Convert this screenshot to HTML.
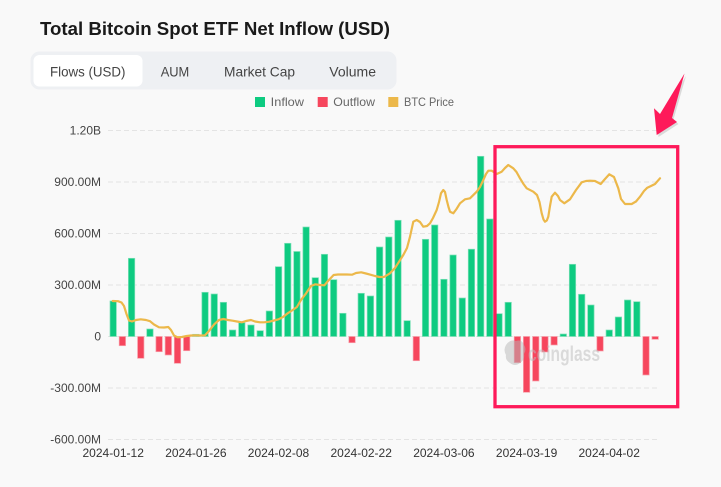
<!DOCTYPE html>
<html><head><meta charset="utf-8"><style>
html,body{margin:0;padding:0;background:#f9f9f9;}
svg{display:block;font-family:"Liberation Sans",sans-serif;}
</style></head><body>
<svg width="721" height="487" viewBox="0 0 721 487" xmlns="http://www.w3.org/2000/svg">
<rect width="721" height="487" fill="#f9f9f9"/>
<text x="40" y="35" font-size="18.5" font-weight="bold" fill="#1a1a1a" textLength="350" lengthAdjust="spacingAndGlyphs">Total Bitcoin Spot ETF Net Inflow (USD)</text>
<rect x="30.5" y="51.5" width="366" height="38" rx="9" fill="#eef0f3"/>
<rect x="33.5" y="55" width="109" height="31.5" rx="6" fill="#ffffff"/>
<g font-size="14" fill="#444">
<text x="50" y="76.5" textLength="75.5" lengthAdjust="spacingAndGlyphs">Flows (USD)</text>
<text x="160.7" y="76.5" textLength="28.6" lengthAdjust="spacingAndGlyphs">AUM</text>
<text x="224" y="76.5" textLength="71" lengthAdjust="spacingAndGlyphs">Market Cap</text>
<text x="329.3" y="76.5" textLength="46.7" lengthAdjust="spacingAndGlyphs">Volume</text>
</g>
<g font-size="12" fill="#666">
<rect x="255" y="97" width="10" height="10" fill="#0ecb81"/>
<text x="270.7" y="106" textLength="33.3" lengthAdjust="spacingAndGlyphs">Inflow</text>
<rect x="317.7" y="97" width="10" height="10" fill="#f6465d"/>
<text x="333.3" y="106" textLength="41.7" lengthAdjust="spacingAndGlyphs">Outflow</text>
<rect x="388.3" y="97" width="10" height="10" fill="#ecb84a"/>
<text x="404" y="106" textLength="50" lengthAdjust="spacingAndGlyphs">BTC Price</text>
</g>
<g stroke="#e4e4e4" stroke-width="1" stroke-dasharray="5 3">
<line x1="108" y1="130.5" x2="658" y2="130.5"/>
<line x1="108" y1="182" x2="658" y2="182"/>
<line x1="108" y1="233.5" x2="658" y2="233.5"/>
<line x1="108" y1="285" x2="658" y2="285"/>
<line x1="108" y1="336.5" x2="658" y2="336.5"/>
<line x1="108" y1="388" x2="658" y2="388"/>
<line x1="108" y1="439.5" x2="658" y2="439.5"/>
</g>
<g font-size="12" fill="#444" text-anchor="end">
<text x="101" y="134.5">1.20B</text>
<text x="101" y="186">900.00M</text>
<text x="101" y="237.5">600.00M</text>
<text x="101" y="289">300.00M</text>
<text x="101" y="340.5">0</text>
<text x="101" y="392">-300.00M</text>
<text x="101" y="443.5">-600.00M</text>
</g>
<g font-size="12" fill="#333" text-anchor="middle">
<text x="113.2" y="457">2024-01-12</text>
<text x="195.9" y="457">2024-01-26</text>
<text x="278.5" y="457">2024-02-08</text>
<text x="361.2" y="457">2024-02-22</text>
<text x="443.9" y="457">2024-03-06</text>
<text x="526.6" y="457">2024-03-19</text>
<text x="609.2" y="457">2024-04-02</text>
</g>
<g fill="#0ecb81" stroke="#7fe0b8" stroke-width="0.7">
<rect x="110.0" y="301" width="6.4" height="35.5"/>
<rect x="128.37" y="258.3" width="6.4" height="78.2"/>
<rect x="146.74" y="329" width="6.4" height="7.5"/>
<rect x="192.67" y="334.3" width="6.4" height="2.2"/>
<rect x="201.86" y="292.3" width="6.4" height="44.2"/>
<rect x="211.05" y="294" width="6.4" height="42.5"/>
<rect x="220.23" y="302.3" width="6.4" height="34.2"/>
<rect x="229.42" y="330" width="6.4" height="6.5"/>
<rect x="238.60" y="322.7" width="6.4" height="13.8"/>
<rect x="247.79" y="325" width="6.4" height="11.5"/>
<rect x="256.98" y="330.7" width="6.4" height="5.8"/>
<rect x="266.16" y="311" width="6.4" height="25.5"/>
<rect x="275.35" y="266.7" width="6.4" height="69.8"/>
<rect x="284.53" y="243.3" width="6.4" height="93.2"/>
<rect x="293.72" y="251.5" width="6.4" height="85"/>
<rect x="302.91" y="227" width="6.4" height="109.5"/>
<rect x="312.09" y="277.7" width="6.4" height="58.8"/>
<rect x="321.28" y="254.3" width="6.4" height="82.2"/>
<rect x="330.46" y="279.7" width="6.4" height="56.8"/>
<rect x="339.65" y="313.3" width="6.4" height="23.2"/>
<rect x="358.02" y="293.3" width="6.4" height="43.2"/>
<rect x="367.21" y="296" width="6.4" height="40.5"/>
<rect x="376.39" y="247" width="6.4" height="89.5"/>
<rect x="385.58" y="237" width="6.4" height="99.5"/>
<rect x="394.77" y="220.3" width="6.4" height="116.2"/>
<rect x="403.95" y="320.7" width="6.4" height="15.8"/>
<rect x="422.32" y="239.3" width="6.4" height="97.2"/>
<rect x="431.51" y="225" width="6.4" height="111.5"/>
<rect x="440.70" y="279.3" width="6.4" height="57.2"/>
<rect x="449.88" y="255" width="6.4" height="81.5"/>
<rect x="459.07" y="298" width="6.4" height="38.5"/>
<rect x="468.25" y="249.2" width="6.4" height="87.3"/>
<rect x="477.44" y="156.3" width="6.4" height="180.2"/>
<rect x="486.63" y="219" width="6.4" height="117.5"/>
<rect x="495.81" y="313.7" width="6.4" height="22.8"/>
<rect x="505.00" y="302.3" width="6.4" height="34.2"/>
<rect x="560.11" y="334" width="6.4" height="2.5"/>
<rect x="569.30" y="264.3" width="6.4" height="72.2"/>
<rect x="578.49" y="294.3" width="6.4" height="42.2"/>
<rect x="587.67" y="305" width="6.4" height="31.5"/>
<rect x="606.04" y="330" width="6.4" height="6.5"/>
<rect x="615.23" y="317" width="6.4" height="19.5"/>
<rect x="624.42" y="300" width="6.4" height="36.5"/>
<rect x="633.60" y="301.7" width="6.4" height="34.8"/>
</g>
<g fill="#f6465d" stroke="#f8a0ab" stroke-width="0.7">
<rect x="119.19" y="336.5" width="6.4" height="9.2"/>
<rect x="137.56" y="336.5" width="6.4" height="21.8"/>
<rect x="155.93" y="336.5" width="6.4" height="15.2"/>
<rect x="165.12" y="336.5" width="6.4" height="18.5"/>
<rect x="174.30" y="336.5" width="6.4" height="26.8"/>
<rect x="183.49" y="336.5" width="6.4" height="14.2"/>
<rect x="348.84" y="336.5" width="6.4" height="6.2"/>
<rect x="413.14" y="336.5" width="6.4" height="24.2"/>
<rect x="514.18" y="336.5" width="6.4" height="26.2"/>
<rect x="523.37" y="336.5" width="6.4" height="55.8"/>
<rect x="532.56" y="336.5" width="6.4" height="44.5"/>
<rect x="541.74" y="336.5" width="6.4" height="15.5"/>
<rect x="550.93" y="336.5" width="6.4" height="8.5"/>
<rect x="596.86" y="336.5" width="6.4" height="14.5"/>
<rect x="642.79" y="336.5" width="6.4" height="38.5"/>
<rect x="651.97" y="336.5" width="6.4" height="2.8"/>
</g>
<polyline fill="none" stroke="#ecb84a" stroke-width="2.2" stroke-linejoin="round" stroke-linecap="round" points="112.7,301 118,301.2 121.5,302.5 124,306 126.5,314 129,320.5 132,321.5 136,320 140.7,319.3 146,320 150,321.2 154,324.5 159,327.3 164,327.5 168.3,327 171,330 174,335.5 177.5,337.3 182,337 186.7,336 191,335.5 195.8,335.3 200,335.5 205,335.3 209,331 214.2,324.3 219,320 223.4,319 228,320 232.6,320.7 237,321.5 241.8,322.3 246,321 251,320 255,321.5 260.1,322.3 264,322.3 269.3,321.7 274,320.5 278.5,319.3 283,317 287.7,313.3 292,310.5 296.9,307 301,300 306.1,293.3 311,286 315.3,284.3 320,285 324.4,285.3 328,281 333.6,275 338,274.5 342.8,274.5 347,274.5 352,274.7 356,273 361.2,272.3 366,273.5 370.4,274.7 375,276 379.6,277 384,277 390,273.3 395,268 398,263.3 403.3,255 407,248 410,236.7 413.3,221.7 416.7,220 420,222 423.3,226.7 427,226 430,223.3 433,218 436.7,210 439,202 441,193.3 443.3,190 445,192 446.7,200 448.5,207 450,211.7 453.3,213.3 456.5,209 460,203.3 465,199.3 470,198.3 476.7,191.7 480,187 483.3,180 486,174 488.3,170.7 491.7,170.7 496.7,174 501.7,171.7 505,168 508.3,165 513.3,168.3 516.5,172 520,178.3 523.5,184 526.7,188.3 533.3,191.7 537,195 539.5,202 541.7,213.3 543.5,219.5 545,221.7 546.8,220.5 548.3,216.7 550,206 551.7,196.7 555,192.7 558,196 560,200 564.3,203.3 570,199.3 576,190 581.7,182.3 586,181 590,180.7 595,181 600.7,184 605,179 609.3,174.3 614,177 618.3,188.3 621,199 625,204 631.7,204 636,201.5 640,196.7 644,191 647.3,187.7 651,186 655,184 660,178.3"/>
<g opacity="0.5">
<path d="M506,345 q4,-6 10,-4 q6,-2 8,4 q3,4 0,9 q1,6 -4,9 q-5,4 -10,0 q-5,-3 -4,-8 q-3,-5 0,-10z" fill="#b8b8b8"/>
<text x="528" y="361" font-size="21" font-weight="bold" fill="#bdbdbd" textLength="72" lengthAdjust="spacingAndGlyphs">coinglass</text>
</g>
<rect x="495" y="146.7" width="182.7" height="260" fill="none" stroke="#fe1a5a" stroke-width="3.3"/>
<polygon points="686,76 673.5,119.5 678.5,124 658.5,137 656,110 661.5,115.5" fill="#000" opacity="0.12"/>
<polygon points="684.5,73.5 672,118 677,122 656.7,135 654,108.3 660,114" fill="#fe1a5a"/>
</svg>
</body></html>
